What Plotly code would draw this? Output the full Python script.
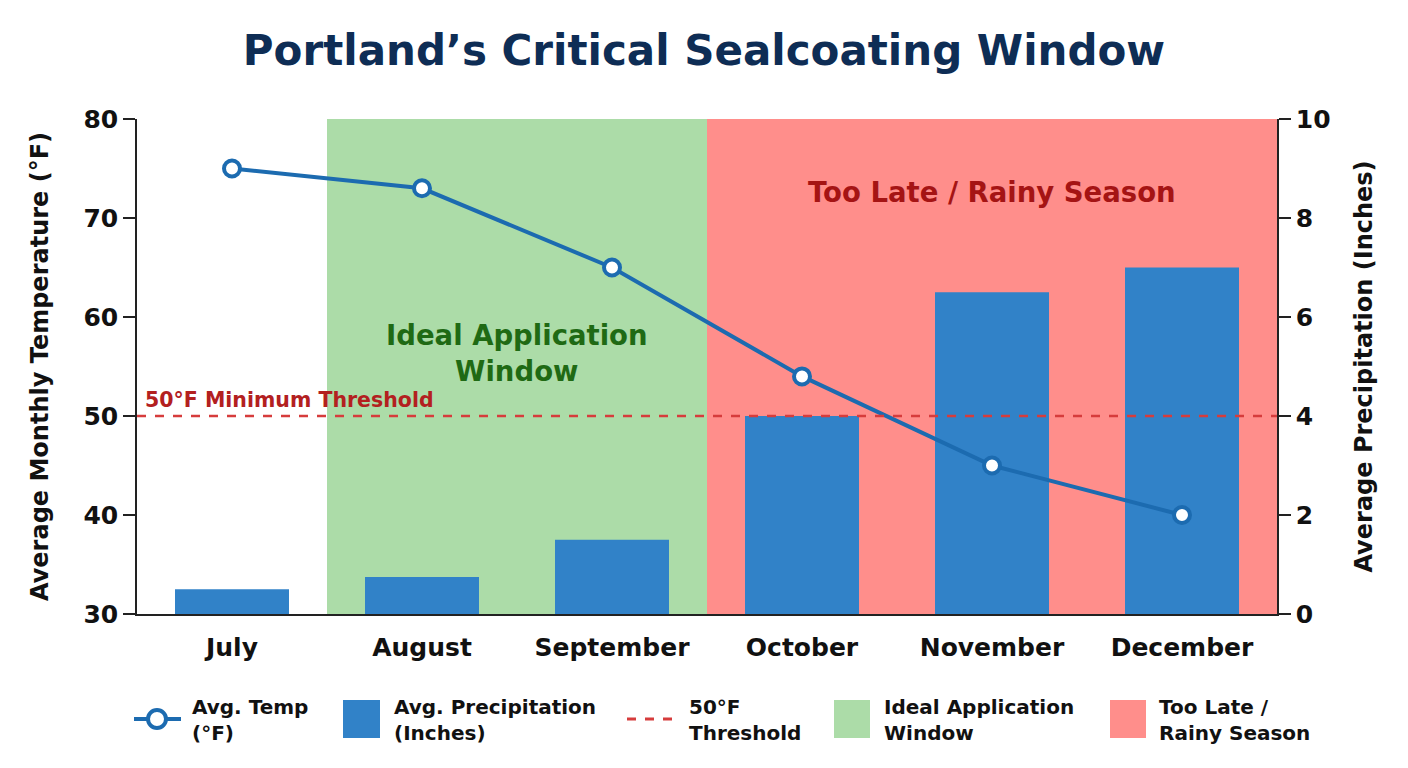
import plotly.graph_objects as go

months = ["July", "August", "September", "October", "November", "December"]
avg_temp_f = [75, 73, 65, 54, 45, 40]
avg_precip_in = [0.5, 0.75, 1.5, 4.0, 6.5, 7.0]
threshold_f = 50
ideal_window = (0.5, 2.5)      # category index span (August–September)
rainy_window = (2.5, 5.5)      # category index span (October–December)

FONT = "DejaVu Sans"
BAR_C = "#3182c8"
LINE_C = "#1c6bb0"
GREEN = "#acdca8"
RED = "#ff8e8b"
THR_C = "#d63c3c"

W, H = 1408, 768
ML, MR, MT, MB = 137, 131, 119, 154
PW, PH = W - ML - MR, H - MT - MB


def px_x(x):
    return (x - ML) / PW


def px_y(y):
    return (H - MB - y) / PH


fig = go.Figure()

fig.add_trace(go.Bar(
    x=months, y=avg_precip_in, yaxis="y", width=0.6,
    marker=dict(color=BAR_C, line=dict(width=0)),
    name="Avg. Precipitation (Inches)", showlegend=False,
))
fig.add_trace(go.Scatter(
    x=months, y=avg_temp_f, yaxis="y2", mode="lines+markers",
    line=dict(color=LINE_C, width=4),
    marker=dict(size=16, color="white", line=dict(color=LINE_C, width=4)),
    name="Avg. Temp (°F)", showlegend=False,
))

shapes = [
    dict(type="rect", xref="x", yref="paper", x0=ideal_window[0], x1=ideal_window[1],
         y0=0, y1=1, fillcolor=GREEN, line=dict(width=0), layer="below"),
    dict(type="rect", xref="x", yref="paper", x0=rainy_window[0], x1=rainy_window[1],
         y0=0, y1=1, fillcolor=RED, line=dict(width=0), layer="below"),
    dict(type="line", xref="paper", yref="y2", x0=0, x1=1, y0=threshold_f, y1=threshold_f,
         line=dict(color=THR_C, width=2.5, dash="dash"), layer="above"),
]

annotations = [
    dict(x=1.5, y=56.4, xref="x", yref="y2", text="Ideal Application<br>Window",
         showarrow=False, font=dict(family=FONT, size=27.5, color="#1f6a14", weight="bold"),
         align="center"),
    dict(x=4.0, y=72.6, xref="x", yref="y2", text="Too Late / Rainy Season",
         showarrow=False, font=dict(family=FONT, size=27.5, color="#a51414", weight="bold")),
    dict(x=px_x(143), y=threshold_f, xref="paper", yref="y2", xanchor="left", yanchor="bottom",
         yshift=2, text="50°F Minimum Threshold", showarrow=False,
         font=dict(family=FONT, size=20.5, color="#b3201f", weight="bold")),
]

# Manual legend (below plot)
ly = 719
leg_font = dict(family=FONT, size=20, color="#111111", weight="bold")
# 1: temp line
shapes.append(dict(type="line", xref="paper", yref="paper", x0=px_x(134), x1=px_x(181),
                   y0=px_y(ly), y1=px_y(ly), line=dict(color=LINE_C, width=4)))
shapes.append(dict(type="circle", xref="paper", yref="paper", x0=px_x(148), x1=px_x(166),
                   y0=px_y(ly - 9), y1=px_y(ly + 9), fillcolor="white",
                   line=dict(color=LINE_C, width=4)))
# 2: precip bar
shapes.append(dict(type="rect", xref="paper", yref="paper", x0=px_x(343), x1=px_x(380),
                   y0=px_y(700), y1=px_y(738), fillcolor=BAR_C, line=dict(width=0)))
# 3: threshold dashed
shapes.append(dict(type="line", xref="paper", yref="paper", x0=px_x(627), x1=px_x(680),
                   y0=px_y(ly), y1=px_y(ly), line=dict(color=THR_C, width=3, dash="dash")))
# 4: ideal window
shapes.append(dict(type="rect", xref="paper", yref="paper", x0=px_x(834), x1=px_x(870),
                   y0=px_y(700), y1=px_y(738), fillcolor=GREEN, line=dict(width=0)))
# 5: rainy season
shapes.append(dict(type="rect", xref="paper", yref="paper", x0=px_x(1110), x1=px_x(1146),
                   y0=px_y(700), y1=px_y(738), fillcolor=RED, line=dict(width=0)))

legend_labels = [
    (190, "Avg. Temp<br>(°F)"),
    (392, "Avg. Precipitation<br>(Inches)"),
    (687, "50°F<br>Threshold"),
    (882, "Ideal Application<br>Window"),
    (1157, "Too Late /<br>Rainy Season"),
]
for lx, txt in legend_labels:
    annotations.append(dict(x=px_x(lx), y=px_y(ly + 1), xref="paper", yref="paper",
                            xanchor="left", yanchor="middle", align="left",
                            text=txt, showarrow=False, font=leg_font))

tick_font = dict(family=FONT, size=25, color="#111111", weight="bold")
title_font = dict(family=FONT, size=24, color="#111111", weight="bold")

fig.update_layout(
    width=W, height=H,
    margin=dict(l=ML, r=MR, t=MT, b=MB),
    paper_bgcolor="white", plot_bgcolor="white",
    showlegend=False,
    title=dict(text="Portland’s Critical Sealcoating Window", x=0.5, xanchor="center",
               y=1 - 50 / H, yanchor="middle",
               font=dict(family=FONT, size=42, color="#0e2d55", weight="bold")),
    xaxis=dict(range=[-0.5, 5.5], showline=True, linecolor="#222222", linewidth=1.5,
               ticks="", showgrid=False, tickfont=tick_font, zeroline=False,
               ticklabelstandoff=10),
    yaxis=dict(side="right", range=[0, 10], dtick=2, showline=True, linecolor="#222222",
               linewidth=1.5, ticks="outside", ticklen=12, tickcolor="#222222", tickwidth=1.5,
               showgrid=False, zeroline=False, tickfont=tick_font,
               title=dict(text="Average Precipitation (Inches)", font=title_font, standoff=26)),
    yaxis2=dict(side="left", overlaying="y", range=[30, 80], dtick=10, showline=True,
                linecolor="#222222", linewidth=1.5, ticks="outside", ticklen=12,
                tickcolor="#222222", tickwidth=1.5, showgrid=False, zeroline=False,
                tickfont=tick_font,
                title=dict(text="Average Monthly Temperature (°F)", font=title_font, standoff=28)),
    shapes=shapes,
    annotations=annotations,
    bargap=0.4,
)

fig.write_html("out.html")
